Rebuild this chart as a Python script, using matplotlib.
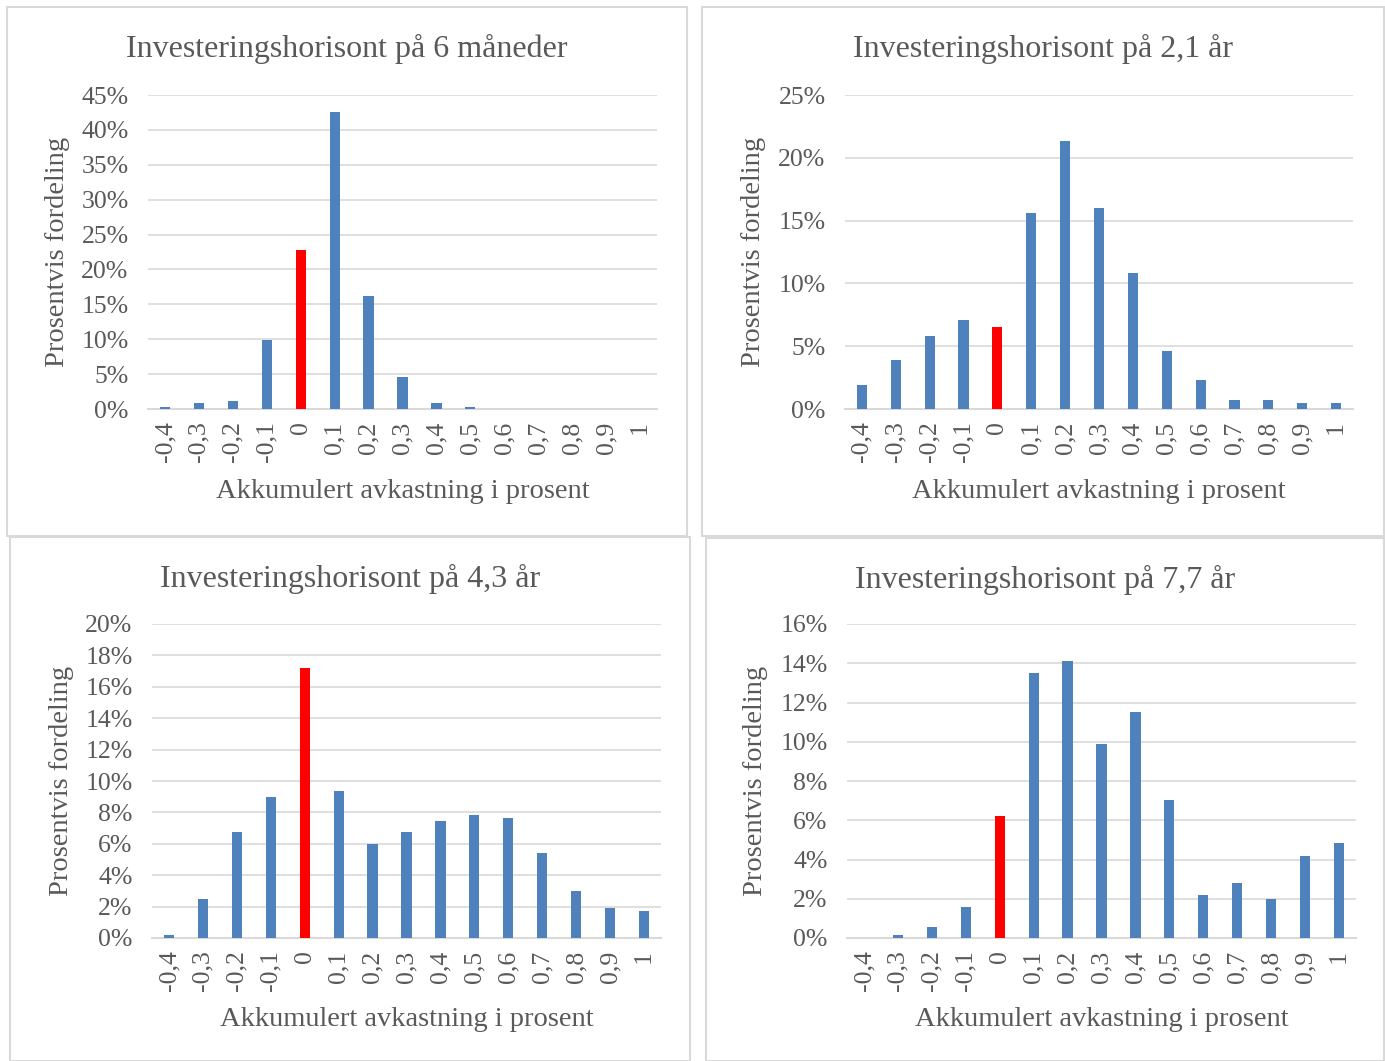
import matplotlib.pyplot as plt
from matplotlib.patches import Rectangle
from matplotlib.ticker import FuncFormatter

# data (share of outcomes, percent)
kategorier = ['-0,4', '-0,3', '-0,2', '-0,1', '0', '0,1', '0,2', '0,3', '0,4',
              '0,5', '0,6', '0,7', '0,8', '0,9', '1']

titler = ['Investeringshorisont på 6 måneder', 'Investeringshorisont på 2,1 år',
          'Investeringshorisont på 4,3 år', 'Investeringshorisont på 7,7 år']

h_6mnd = [0.3, 0.9, 1.2, 9.9, 22.8, 42.6, 16.2, 4.6, 0.9, 0.3, 0, 0, 0, 0, 0]
h_2_1 = [1.9, 3.9, 5.8, 7.1, 6.5, 15.6, 21.3, 16.0, 10.8, 4.6, 2.3, 0.7, 0.7, 0.5, 0.5]
h_4_3 = [0.2, 2.5, 6.75, 9.0, 17.2, 9.35, 6.0, 6.75, 7.45, 7.85, 7.65, 5.4, 3.0, 1.9, 1.7]
h_7_7 = [0, 0.15, 0.56, 1.6, 6.2, 13.5, 14.1, 9.9, 11.5, 7.05, 2.2, 2.8, 2.0, 4.2, 4.85]

serier = [h_6mnd, h_2_1, h_4_3, h_7_7]
ymaks = [45, 25, 20, 16]
ysteg = [5, 5, 2, 2]

W, H = 1385, 1061
fig = plt.figure(figsize=(W / 100, H / 100), dpi=100)
plt.rcParams['font.family'] = 'Liberation Serif'
grå = '#595959'
blå = '#4f81bd'

# panel frames and plot areas in pixels (left, top, right, bottom)
rammer = [(7, 7, 687, 536), (702, 7, 1384, 536), (10, 537, 690, 1061), (706, 538, 1384, 1061)]
områder = [(148, 95, 657, 409), (845, 95, 1353, 409), (152, 624, 661, 938), (847, 624, 1356, 938)]

for i in range(4):
    l, t, r, b = rammer[i]
    fig.add_artist(Rectangle((l / W, 1 - b / H), (r - l) / W, (b - t) / H,
                             transform=fig.transFigure, fill=False,
                             edgecolor='#d9d9d9', linewidth=1.5))
    fig.text((l + r) / 2 / W, 1 - (t + 42) / H, titler[i], fontsize=23, color=grå,
             ha='center', va='center')
    l, t, r, b = områder[i]
    ax = fig.add_axes([l / W, 1 - b / H, (r - l) / W, (b - t) / H])
    farger = ['red' if k == '0' else blå for k in kategorier]
    ax.bar(range(len(kategorier)), serier[i], width=0.3, color=farger, zorder=3)
    ax.set_xlim(-0.5, len(kategorier) - 0.5)
    ax.set_ylim(0, ymaks[i])
    ax.set_yticks(range(0, ymaks[i] + 1, ysteg[i]))
    ax.yaxis.set_major_formatter(FuncFormatter(lambda v, p: f'{v:.0f}%'))
    ax.set_xticks(range(len(kategorier)))
    ax.set_xticklabels(kategorier, rotation=90)
    ax.grid(axis='y', color='#d9d9d9', linewidth=1.2, zorder=0)
    for s in ['top', 'right', 'left']:
        ax.spines[s].set_visible(False)
    ax.spines['bottom'].set_color('#d9d9d9')
    ax.spines['bottom'].set_linewidth(1.5)
    ax.tick_params(length=0, labelsize=18.5, colors=grå)
    ax.tick_params(axis='y', pad=14)
    ax.tick_params(axis='x', pad=9)
    fig.text((l + r) / 2 / W, 1 - (b + 82) / H, 'Akkumulert avkastning i prosent',
             fontsize=20.5, color=grå, ha='center', va='center')
    fig.text((l - 91) / W, 1 - (t + b) / 2 / H, 'Prosentvis fordeling', rotation=90,
             fontsize=20.5, color=grå, ha='center', va='center')

fig.savefig('out.png', dpi=100)
